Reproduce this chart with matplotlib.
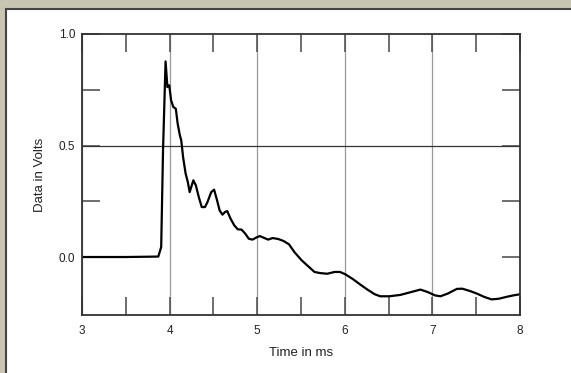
import matplotlib
matplotlib.use("Agg")
import matplotlib.pyplot as plt
from matplotlib.patches import Rectangle
from matplotlib.ticker import FixedLocator

plt.rcParams["font.family"] = ["Liberation Sans", "DejaVu Sans"]

# 読み取った波形 (時間 ms, 電圧 V)
time_ms = [3.0, 3.5, 3.871, 3.904, 3.925, 3.954, 3.975, 3.996, 4.017, 4.042,
           4.071, 4.092, 4.117, 4.133, 4.154, 4.183, 4.208, 4.229, 4.271, 4.300,
           4.333, 4.367, 4.404, 4.433, 4.475, 4.508, 4.542, 4.571, 4.604, 4.633,
           4.658, 4.696, 4.738, 4.779, 4.821, 4.863, 4.904, 4.946, 4.988, 5.029,
           5.071, 5.125, 5.175, 5.238, 5.300, 5.363, 5.425, 5.508, 5.592, 5.654,
           5.717, 5.800, 5.883, 5.946, 6.008, 6.092, 6.175, 6.258, 6.342, 6.404,
           6.508, 6.633, 6.758, 6.863, 6.946, 7.029, 7.092, 7.175, 7.279, 7.342,
           7.425, 7.508, 7.592, 7.675, 7.758, 7.842, 7.925, 8.0]
volts = [0.0, 0.0, 0.002, 0.045, 0.478, 0.877, 0.762, 0.770, 0.703, 0.673,
         0.665, 0.598, 0.546, 0.523, 0.448, 0.374, 0.336, 0.291, 0.344, 0.321,
         0.269, 0.224, 0.224, 0.247, 0.291, 0.302, 0.254, 0.209, 0.190, 0.202,
         0.206, 0.172, 0.142, 0.124, 0.123, 0.105, 0.082, 0.078, 0.087, 0.094,
         0.087, 0.078, 0.085, 0.081, 0.072, 0.057, 0.022, -0.015, -0.045, -0.067,
         -0.072, -0.075, -0.067, -0.067, -0.078, -0.099, -0.123, -0.146, -0.167, -0.176,
         -0.176, -0.170, -0.157, -0.146, -0.157, -0.172, -0.176, -0.164, -0.143, -0.142,
         -0.152, -0.164, -0.179, -0.190, -0.187, -0.179, -0.172, -0.167]

x_ticks = [3, 4, 5, 6, 7, 8]
x_minor = [3.5, 4.5, 5.5, 6.5, 7.5]
y_ticks = [0.0, 0.5, 1.0]
y_minor = [0.25, 0.75]

W, H = 571, 373
fig = plt.figure(figsize=(W / 100, H / 100), dpi=100)
fig.patch.set_facecolor("#c8c6b2")

# 白いパネル (軸の後ろ)
panel = Rectangle((6 / W, -0.1), 1, 1.1 - 9 / H, transform=fig.transFigure,
                  facecolor="white", edgecolor="#444444", linewidth=1.5, zorder=-10)
fig.patches.append(panel)

ax = fig.add_axes([82 / W, 1 - 315 / H, (520 - 82) / W, (315 - 34) / H])
ax.set_facecolor("white")

ax.set_xlim(3, 8)
ax.set_ylim(-0.26, 1.0)
ax.set_xticks(x_ticks)
ax.set_yticks(y_ticks)
ax.set_yticklabels([f"{v:.1f}" for v in y_ticks])
ax.xaxis.set_minor_locator(FixedLocator(x_minor))
ax.yaxis.set_minor_locator(FixedLocator(y_minor))

ax.tick_params(which="both", direction="in", length=13, width=1.2, color="#555555",
               top=True, right=True, labelsize=8.5, labelcolor="#222222")
ax.tick_params(axis="x", pad=7)
ax.tick_params(axis="y", pad=5)

ax.grid(axis="x", which="major", color="#999999", linewidth=0.9)
ax.axhline(0.5, color="#333333", linewidth=0.9)

ax.plot(time_ms, volts, color="black", linewidth=1.6)

for s in ax.spines.values():
    s.set_linewidth(1.3)
    s.set_color("#333333")

ax.set_xlabel("Time in ms", fontsize=9.5, color="#222222", va="center")
ax.set_ylabel("Data in Volts", fontsize=9.5, color="#222222", va="center")
ax.xaxis.set_label_coords(0.5, (315 - 353) / 281)
ax.yaxis.set_label_coords((40 - 82) / 438, 0.5)

fig.savefig("out.png", dpi=100)
